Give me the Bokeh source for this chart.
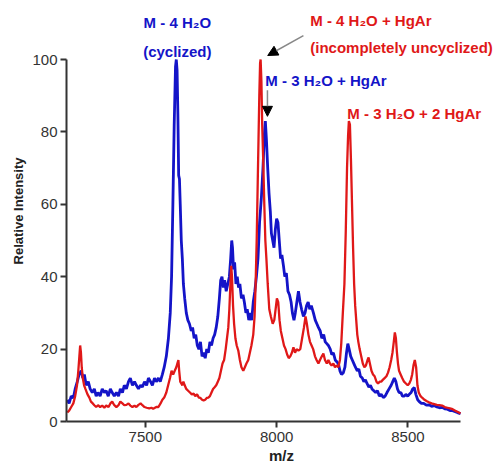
from bokeh.plotting import figure
from bokeh.models import Range1d, Label, Arrow, NormalHead, FixedTicker
from bokeh.embed import file_html
from bokeh.resources import INLINE

blue_mz = [7203, 7210, 7218, 7226, 7233, 7241, 7248, 7256, 7262, 7268, 7275, 7283, 7290, 7298, 7306, 7313, 7320, 7328, 7336, 7344, 7351, 7359, 7367, 7374, 7382, 7390, 7398, 7405, 7413, 7420, 7428, 7436, 7443, 7451, 7459, 7466, 7474, 7482, 7489, 7497, 7505, 7512, 7520, 7527, 7535, 7542, 7550, 7557, 7565, 7572, 7580, 7588, 7595, 7600, 7605, 7610, 7615, 7618, 7621, 7624, 7627, 7630, 7633, 7637, 7641, 7645, 7650, 7656, 7662, 7668, 7675, 7680, 7686, 7692, 7698, 7704, 7710, 7716, 7722, 7728, 7734, 7740, 7746, 7752, 7758, 7764, 7770, 7776, 7782, 7787, 7792, 7797, 7802, 7808, 7814, 7820, 7825, 7829, 7832, 7836, 7840, 7845, 7850, 7855, 7860, 7866, 7872, 7877, 7883, 7888, 7894, 7899, 7905, 7911, 7917, 7923, 7929, 7935, 7942, 7948, 7953, 7957, 7961, 7966, 7971, 7976, 7980, 7985, 7990, 7995, 8000, 8005, 8010, 8015, 8020, 8026, 8031, 8037, 8043, 8049, 8055, 8060, 8066, 8071, 8077, 8083, 8089, 8095, 8102, 8108, 8114, 8120, 8126, 8132, 8140, 8147, 8153, 8159, 8166, 8172, 8179, 8185, 8191, 8197, 8204, 8210, 8216, 8223, 8229, 8235, 8241, 8247, 8254, 8260, 8266, 8271, 8276, 8282, 8288, 8294, 8300, 8307, 8313, 8319, 8326, 8332, 8338, 8344, 8351, 8357, 8363, 8370, 8377, 8384, 8391, 8398, 8406, 8413, 8420, 8428, 8436, 8442, 8448, 8454, 8460, 8466, 8473, 8479, 8486, 8492, 8499, 8505, 8512, 8518, 8524, 8530, 8537, 8543, 8551, 8560, 8570, 8580, 8590, 8600, 8610, 8620, 8630, 8640, 8650, 8660, 8670, 8680, 8690, 8700]
blue_int = [6, 5, 7, 6.5, 9, 11, 13, 14, 12, 13, 10, 11, 9, 8, 9, 7, 8, 7, 9, 8, 8.5, 7, 9, 8, 7, 8, 7, 9, 8, 10, 9, 11, 12, 10, 11, 10, 9, 10, 9.5, 11, 10, 12, 11, 10, 12, 11, 12, 11, 13, 15, 18, 23, 30, 40, 60, 82, 98, 100, 97, 85, 68, 67, 60, 50, 45, 38, 34, 30, 28, 27, 25, 26, 23, 24, 21, 20, 22, 18, 19, 17.5, 20, 19, 22, 21, 23, 24, 26, 29, 34, 39, 40, 37, 39, 36, 38, 40, 45, 50, 48, 42, 44, 38, 40, 37, 38, 34, 35, 33, 30, 31, 28, 30, 28, 33, 36, 40, 45, 55, 62, 70, 79, 83, 78, 70, 63, 58, 52, 50, 48, 53, 56, 55, 50, 45, 46, 43, 40, 41, 36, 35, 33, 30, 28, 30, 33, 36, 33, 31, 29, 30, 32, 33, 31, 32, 30, 28, 27, 26, 25, 23, 24, 22, 21.5, 21, 20, 18.5, 19, 17, 16.5, 16, 14, 13, 13.5, 15, 19, 21.5, 20, 18, 17, 16, 15, 14, 14.5, 12.5, 12, 11, 11.5, 10.5, 9.5, 10, 9, 8.5, 8, 8.5, 7, 7.5, 6.6, 7, 8, 9, 10, 11, 12, 11, 9, 8, 8, 7, 7, 7.5, 7, 7.5, 8, 9, 9.4, 7.5, 6, 5.5, 5, 5, 4.5, 4.6, 4.2, 4.4, 4, 3.8, 3.9, 3.5, 3.4, 3, 3, 2.7, 2.4, 2.2]

red_mz = [7203, 7210, 7218, 7226, 7233, 7240, 7245, 7249, 7252, 7255, 7258, 7262, 7267, 7272, 7280, 7287, 7293, 7300, 7306, 7313, 7320, 7328, 7336, 7344, 7351, 7360, 7367, 7374, 7382, 7390, 7398, 7405, 7413, 7420, 7428, 7436, 7443, 7451, 7459, 7466, 7474, 7482, 7489, 7497, 7505, 7515, 7523, 7530, 7542, 7550, 7558, 7565, 7572, 7580, 7587, 7594, 7600, 7606, 7612, 7618, 7622, 7626, 7629, 7633, 7637, 7641, 7645, 7650, 7656, 7663, 7670, 7677, 7684, 7690, 7697, 7704, 7710, 7716, 7722, 7728, 7734, 7740, 7746, 7752, 7758, 7763, 7770, 7776, 7782, 7788, 7794, 7800, 7806, 7811, 7816, 7820, 7824, 7827, 7830, 7834, 7838, 7843, 7848, 7854, 7860, 7866, 7873, 7879, 7885, 7892, 7898, 7904, 7911, 7916, 7920, 7924, 7928, 7931, 7934, 7937, 7939, 7942, 7945, 7949, 7953, 7957, 7961, 7966, 7972, 7978, 7985, 7991, 7996, 8001, 8006, 8011, 8016, 8022, 8028, 8034, 8040, 8046, 8052, 8058, 8064, 8070, 8076, 8083, 8090, 8097, 8104, 8110, 8115, 8121, 8127, 8133, 8139, 8146, 8152, 8159, 8165, 8172, 8178, 8184, 8191, 8197, 8203, 8209, 8216, 8222, 8229, 8235, 8241, 8246, 8252, 8258, 8263, 8268, 8272, 8275, 8279, 8283, 8287, 8291, 8295, 8299, 8303, 8307, 8311, 8316, 8322, 8328, 8334, 8340, 8346, 8350, 8355, 8361, 8367, 8373, 8380, 8386, 8392, 8398, 8404, 8411, 8418, 8424, 8430, 8436, 8441, 8446, 8450, 8454, 8458, 8462, 8466, 8472, 8478, 8485, 8492, 8499, 8505, 8511, 8516, 8521, 8526, 8531, 8536, 8541, 8548, 8555, 8563, 8572, 8580, 8590, 8600, 8610, 8620, 8630, 8640, 8650, 8660, 8670, 8680, 8690, 8700]
red_int = [2.5, 3, 4, 5, 7, 10, 14, 18, 21, 19, 15, 12, 10, 9, 7.5, 6.6, 5.5, 5, 4.5, 4, 4.5, 4, 4.4, 3.8, 4.4, 4, 5, 5.5, 4.5, 4, 4.5, 5.5, 5, 4.5, 4.6, 5, 4.4, 4, 4.4, 4, 4.6, 5, 4.5, 4, 3.8, 3.6, 3.8, 3.5, 4, 4, 5, 6, 6.6, 8, 10, 12, 14, 13, 14, 15, 16, 17, 14, 11, 10.5, 10, 11, 10, 9, 8.5, 8, 7.5, 7.7, 7, 7.5, 6.6, 6.5, 6, 5.8, 6, 6.5, 6.6, 7, 8, 9, 9.4, 10, 11, 12, 14, 16, 17, 20, 23, 26, 31, 38, 43, 40, 32, 27, 23, 21, 19.6, 17, 15, 14, 15, 16, 17, 19, 21, 24, 29, 38, 50, 66, 78, 90, 99, 100, 94, 82, 72, 60, 50, 45, 38, 31, 29, 27, 28, 31, 34, 33, 28, 25, 23, 21, 20, 18.5, 17.5, 18, 19, 20.5, 19, 20, 19.6, 20, 23, 26, 29, 27, 24, 22, 21, 20, 18, 17, 16, 17, 18, 18.8, 17, 16, 17, 16, 15.5, 16, 15, 15.5, 15, 17, 21.5, 30, 38, 52, 70, 79, 83, 82, 72, 60, 48, 38, 32, 28, 24, 22, 20, 18, 16, 15, 15.5, 17, 17.7, 16, 14, 13, 12.5, 11, 10.5, 11, 11, 11.5, 12, 12.5, 13.5, 15, 17, 19, 22, 24.6, 23, 19, 16, 14, 13, 12, 11, 10.5, 10, 10.5, 11.5, 13, 15.5, 17, 15, 10, 8, 7, 6.5, 6, 5.6, 5.3, 5, 4.8, 4.6, 4.5, 4.4, 4, 3.8, 3.6, 3.4, 3, 2.6, 2.2]

x_ticks = [7500, 8000, 8500]
y_ticks = [0, 20, 40, 60, 80, 100]
x_bounds = (7200, 8700)
y_bounds = (0, 100)

BLUE = "#1414c8"
RED = "#e01818"

p = figure(width=496, height=467, output_backend="svg", toolbar_location=None,
           x_range=Range1d(7200, 8837), y_range=Range1d(0, 116.3),
           min_border_left=66, min_border_right=0, min_border_top=0, min_border_bottom=46)
p.outline_line_color = None
p.xgrid.visible = False
p.ygrid.visible = False
p.background_fill_color = "white"

p.line(blue_mz, blue_int, line_color=BLUE, line_width=2.8)
p.line(red_mz, red_int, line_color=RED, line_width=2.3)

for ax in (p.xaxis[0], p.yaxis[0]):
    ax.axis_line_width = 2
    ax.axis_line_color = "#333333"
    ax.major_tick_line_width = 2
    ax.major_tick_line_color = "#333333"
    ax.major_tick_out = 6
    ax.major_tick_in = 0
    ax.minor_tick_line_color = None
    ax.major_label_text_font = "Liberation Sans"
    ax.major_label_text_font_size = "15px"
    ax.major_label_text_color = "#333333"
    ax.axis_label_text_font = "Liberation Sans"
    ax.axis_label_text_font_style = "bold"
    ax.axis_label_text_color = "#222222"

p.xaxis.bounds = x_bounds
p.yaxis.bounds = y_bounds
p.xaxis.ticker = FixedTicker(ticks=x_ticks)
p.yaxis.ticker = FixedTicker(ticks=y_ticks)
p.xaxis.axis_label = "m/z"
p.yaxis.axis_label = "Relative Intensity"
p.xaxis.axis_label_text_font_size = "15px"
p.yaxis.axis_label_text_font_size = "13px"
p.xaxis.axis_label_standoff = 2
p.yaxis.axis_label_standoff = 3
p.xaxis.major_label_standoff = 4
p.yaxis.major_label_standoff = 3

def lab(x, y, t, c, align="left"):
    p.add_layout(Label(x=x, y=y, text=t, text_color=c, text_align=align,
                       text_baseline="alphabetic", text_font="Liberation Sans",
                       text_font_style="bold", text_font_size="15px"))

lab(7622, 110.2, "M - 4 H\u2082O", BLUE, "center")
lab(7622, 102.2, "(cyclized)", BLUE, "center")
lab(8128, 110.8, "M - 4 H\u2082O + HgAr", RED)
lab(8128, 103.3, "(incompletely uncyclized)", RED)
lab(7957, 94.2, "M - 3 H\u2082O + HgAr", BLUE)
lab(8269, 85.1, "M - 3 H\u2082O + 2 HgAr", RED)

p.add_layout(Arrow(x_start=8102, y_start=106.6, x_end=7966, y_end=101.1,
                   line_color="#888888", line_width=1.5,
                   end=NormalHead(size=10, fill_color="black", line_color="black")))
p.add_layout(Arrow(x_start=7965, y_start=91.5, x_end=7965, y_end=84.3,
                   line_color="#888888", line_width=1.5,
                   end=NormalHead(size=10, fill_color="black", line_color="black")))

open("out.html", "w").write(file_html(p, INLINE))
